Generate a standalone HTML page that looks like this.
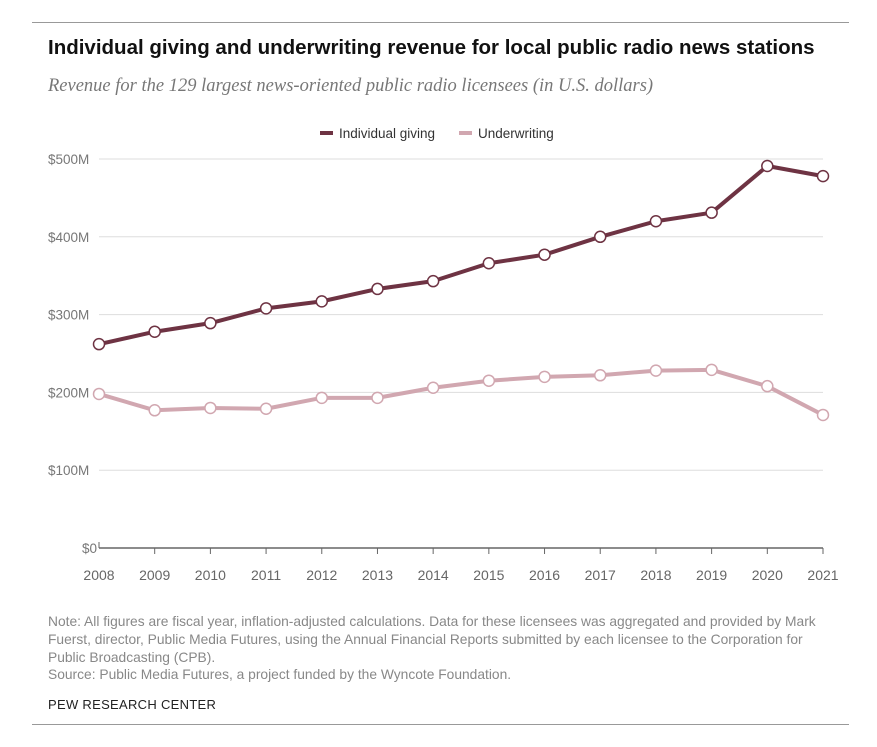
<!DOCTYPE html>
<html><head><meta charset="utf-8"><style>
body{margin:0;background:#fff;width:877px;height:747px;overflow:hidden;font-family:"Liberation Sans",sans-serif}
.rule{position:absolute;left:32px;width:817px;height:1px;background:#999}
</style></head><body>
<div class="rule" style="top:22px"></div>
<div style="position:absolute;left:48px;top:36px;font-size:20.5px;font-weight:bold;color:#111;white-space:nowrap">Individual giving and underwriting revenue for local public radio news stations</div>
<div style="position:absolute;left:48px;top:76px;font-size:18.5px;font-style:italic;color:#777;font-family:'Liberation Serif',serif;white-space:nowrap">Revenue for the 129 largest news-oriented public radio licensees (in U.S. dollars)</div>
<svg id="c" width="877" height="600" style="position:absolute;left:0;top:0"></svg>
<div style="position:absolute;left:48px;top:613px;width:790px;font-size:13.8px;line-height:17.8px;color:#888">Note: All figures are fiscal year, inflation-adjusted calculations. Data for these licensees was aggregated and provided by Mark Fuerst, director, Public Media Futures, using the Annual Financial Reports submitted by each licensee to the Corporation for Public Broadcasting (CPB).<br>Source: Public Media Futures, a project funded by the Wyncote Foundation.</div>
<div style="position:absolute;left:48px;top:697px;font-size:13px;color:#222;letter-spacing:0.3px">PEW RESEARCH CENTER</div>
<div class="rule" style="top:724px"></div>
<script>
const years=[2008,2009,2010,2011,2012,2013,2014,2015,2016,2017,2018,2019,2020,2021];
const individualGiving=[262,278,289,308,317,333,343,366,377,400,420,431,491,478];
const underwriting=[198,177,180,179,193,193,206,215,220,222,228,229,208,171];
const yTicks=[0,100,200,300,400,500];
const yLabels=["$0","$100M","$200M","$300M","$400M","$500M"];
const NS="http://www.w3.org/2000/svg";
const svg=document.getElementById('c');
const x=i=>99+i*(823-99)/(years.length-1);
const y=v=>548-v*(548-159)/500;
function el(t,a,p){const e=document.createElementNS(NS,t);for(const k in a)e.setAttribute(k,a[k]);(p||svg).appendChild(e);return e;}
yTicks.forEach((t,i)=>{
  if(t>0){const g=el('line',{x1:99,x2:823,y1:y(t),y2:y(t),stroke:'#ddd','stroke-width':1});
  
  }
  const l=el('text',{x:i==0?97:48,y:y(t)+5,'font-size':13.5,fill:'#777','font-family':'Liberation Sans, sans-serif','text-anchor':i==0?'end':'start'});
  l.textContent=yLabels[i];
  
  
});
const ax=el('line',{x1:99,x2:823,y1:548,y2:548,stroke:'#666','stroke-width':1.5});


years.forEach((yr,i)=>{
  const tk=el('line',{x1:x(i),x2:x(i),y1:548,y2:i==0?542:554,stroke:'#666','stroke-width':1});
  
  
  const t=el('text',{x:x(i),y:580,'font-size':14,fill:'#666','text-anchor':'middle','font-family':'Liberation Sans, sans-serif'});
  t.textContent=yr;
  
  
});
function series(vals,color,name){
  const p=el('polyline',{points:vals.map((v,i)=>x(i)+','+y(v)).join(' '),fill:'none',stroke:color,'stroke-width':4,'stroke-linejoin':'round'});
  
  
  vals.forEach((v,i)=>{
    const c=el('circle',{cx:x(i),cy:y(v),r:5.5,fill:'#fff',stroke:color,'stroke-width':1.5});
    
    
  });
}
series(underwriting,'#d1a7b0','underwriting');
series(individualGiving,'#6e3343','individual-giving');
const legend=[['Individual giving','#6e3343',320],['Underwriting','#d1a7b0',459]];
legend.forEach(([n,c,lx])=>{
  const g=el('g',{});
  
  
  el('line',{x1:lx,x2:lx+13,y1:133,y2:133,stroke:c,'stroke-width':4},g);
  const t=el('text',{x:lx+19,y:138,'font-size':13.5,fill:'#333','font-family':'Liberation Sans, sans-serif'},g);
  t.textContent=n;
});
</script>
</body></html>
